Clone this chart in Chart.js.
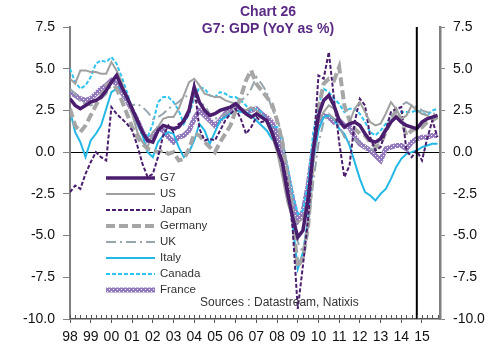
<!DOCTYPE html>
<html>
<head>
<meta charset="utf-8">
<script src="https://cdn.jsdelivr.net/npm/chart.js@4.4.1/dist/chart.umd.min.js"></script>
<style>
  body { margin: 0; background: #fff; }
  #wrap { position: relative; width: 500px; height: 359px; }
  #title { position: absolute; left: 168px; top: 3px; width: 200px; text-align: center;
           font: bold 14px "Liberation Sans", Arial, sans-serif; line-height: 17px; color: #5a2a84; }
  #src { position: absolute; left: 200px; top: 295px; font: 12px "Liberation Sans", Arial, sans-serif; color: #333; }
</style>
</head>
<body>
<div id="wrap">
  <canvas id="myChart" width="500" height="359"></canvas>
  <div id="title">Chart 26<br>G7: GDP (YoY as %)</div>
  <div id="src">Sources : Datastream, Natixis</div>
</div>
<script>
// quarterly YoY %, 1998 Q1 .. 2015 Q4
var firstYear = 1998;
var yearLabels = ['98','99','00','01','02','03','04','05','06','07','08','09','10','11','12','13','14','15'];
var forecastStart = 2014.75;

var g7 = [3.2,2.8,2.6,2.8, 3.0,3.1,3.3,3.7, 4.2,4.6,3.9,3.3, 2.6,1.9,1.2,0.7,
          0.6,1.3,1.6,1.5, 1.4,1.5,1.9,2.5, 3.9,3.0,2.5,2.2, 2.3,2.5,2.6,2.7,
          2.9,2.6,2.3,2.1, 2.3,2.1,1.9,1.2, 0.3,-0.6,-2.4,-3.9, -5.1,-4.7,-2.8,0.1,
          2.2,3.1,3.4,2.8, 1.9,1.5,1.7,1.8, 1.6,1.1,0.7,0.6, 0.8,1.3,1.8,2.1,
          1.8,1.6,1.5,1.4, 1.8,2.0,2.1,2.2];
var us = [4.4,4.1,4.9,4.9, 4.8,4.8,4.7,4.7, 5.4,4.9,4.2,3.3, 2.3,1.2,0.6,0.3,
          1.2,1.5,2.0,2.1, 2.1,2.6,3.4,4.2, 4.4,4.0,3.5,3.4, 3.3,3.3,3.1,3.0,
          2.9,2.6,2.5,2.7, 2.5,2.2,1.8,1.0, 0.0,-1.4,-3.0,-4.0, -4.2,-4.0,-2.8,0.2,
          1.8,2.4,2.8,2.6, 1.9,1.5,1.8,2.6, 3.0,2.4,1.8,1.6, 1.7,2.3,3.0,2.6,
          2.0,2.2,2.8,2.5, 2.3,2.2,2.0,2.2];
var japan = [-2.4,-2.0,-2.2,-1.3, -0.6,0.0,-0.3,-0.5, 2.7,2.3,2.0,1.7, 1.3,0.4,-0.7,-1.5,
          -1.3,-0.3,1.0,1.6, 1.2,1.7,1.8,2.3, 4.0,1.4,0.7,0.8, 0.7,1.3,1.9,2.3,
          2.6,2.0,1.1,1.5, 2.1,1.8,1.9,1.2, 0.3,-0.6,-1.8,-4.5, -9.4,-6.8,-4.0,-0.1,
          4.6,4.4,6.0,3.2, 0.6,-1.5,-0.8,1.8, 3.2,2.8,0.9,0.1, 0.3,1.3,2.4,2.6,
          2.7,0.1,-0.3,0.1, -0.5,0.8,1.9,0.9];
var germany = [2.6,1.6,1.2,1.6, 2.2,2.8,3.4,4.0, 4.2,3.8,3.1,2.3, 1.5,0.9,0.5,0.2,
          0.1,0.0,0.1,-0.1, 0.0,-0.5,-0.4,0.2, 1.1,1.0,0.6,0.3, 0.0,0.6,1.1,1.6,
          2.5,3.3,4.3,4.9, 4.1,3.7,3.3,2.9, 1.9,0.6,-1.6,-4.0, -6.9,-6.3,-4.5,-0.3,
          2.6,4.1,4.4,4.3, 5.1,2.8,1.9,1.4, 1.1,1.0,0.6,0.3, 0.5,1.2,1.9,2.5,
          1.9,1.0,1.3,1.4, 1.5,1.8,1.9,2.1];
var uk = [3.8,3.5,3.0,2.9, 2.8,2.9,3.2,3.5, 4.0,3.8,3.3,3.0, 2.8,2.9,2.7,2.4,
          2.0,2.1,2.3,2.6, 2.8,3.0,3.3,3.4, 3.1,3.0,2.8,2.3, 2.0,2.1,2.3,2.5,
          2.8,3.1,3.3,3.8, 4.5,4.1,3.6,2.6, 2.0,1.0,-1.0,-3.0, -5.4,-6.0,-4.5,-1.8,
          0.5,1.8,2.3,2.0, 1.6,0.9,0.6,0.8, 0.5,0.3,0.2,0.1, 0.9,1.5,1.9,2.3,
          2.8,3.0,2.8,2.7, 2.5,2.4,2.3,2.3];
var italy = [2.5,1.2,0.6,-0.3, 0.7,1.1,1.6,2.6, 3.6,3.8,3.9,3.2, 2.5,1.8,1.0,0.0,
          -0.3,0.6,1.0,1.2, 1.1,0.3,-0.3,0.0, 0.7,1.7,1.3,0.5, 1.2,1.9,2.1,2.3,
          2.5,2.4,2.4,2.2, 1.9,1.6,1.3,0.8, 0.5,-0.7,-2.1,-4.3, -7.0,-6.0,-4.0,-0.5,
          1.3,2.1,2.2,2.0, 1.4,1.1,0.4,-0.6, -1.6,-2.4,-2.6,-2.9, -2.5,-2.2,-1.6,-0.9,
          -0.4,-0.1,0.0,0.1, 0.3,0.4,0.5,0.5];
var canada = [5.0,4.2,3.8,4.0, 4.5,5.3,5.5,5.4, 5.7,5.3,4.5,3.6, 2.6,1.7,1.1,0.9,
          1.7,3.0,3.3,3.3, 3.0,2.5,1.7,2.3, 3.2,3.9,3.8,3.4, 3.3,3.6,3.5,3.3,
          3.3,3.1,2.8,2.5, 2.6,2.4,1.8,1.5, 1.5,0.7,-0.8,-2.5, -3.7,-3.5,-1.8,1.2,
          2.8,3.8,3.6,3.2, 2.9,2.4,2.6,2.6, 2.3,1.8,1.2,1.0, 1.3,1.7,2.1,2.5,
          2.4,2.4,2.4,2.5, 2.4,2.2,2.5,2.6];
var france = [3.6,3.4,3.2,3.1, 3.2,3.5,3.8,4.0, 4.3,4.1,3.6,3.1, 2.5,1.9,1.2,0.7,
          1.0,1.4,1.3,0.9, 0.6,0.9,1.0,1.3, 2.0,2.5,2.2,1.9, 1.6,1.9,2.3,2.6,
          2.7,2.5,2.4,2.5, 2.6,2.3,2.1,1.8, 1.0,0.0,-1.3,-2.8, -4.1,-3.6,-2.0,0.2,
          1.9,2.2,2.1,1.8, 1.9,1.6,1.5,0.9, 0.5,0.3,0.1,-0.2, -0.5,0.2,0.3,0.4,
          0.4,0.2,0.6,0.8, 0.9,0.9,1.0,1.0];

var names = ['G7','US','Japan','Germany','UK','Italy','Canada','France'];
var values = [g7, us, japan, germany, uk, italy, canada, france];

// dotted purple band used for France
function hatch() {
    var c = document.createElement('canvas');
    c.width = 4; c.height = 4;
    var g = c.getContext('2d');
    g.fillStyle = '#9479bf';
    g.fillRect(0, 0, 4, 4);
    g.fillStyle = '#ffffff';
    g.fillRect(1, 1, 1, 1);
    g.fillRect(3, 3, 1, 1);
    return g.createPattern(c, 'repeat');
}

var styles = [
    {color: '#4b1d6e', width: 3.5, dash: []},
    {color: '#a0a0a0', width: 2, dash: []},
    {color: '#4b1d6e', width: 2, dash: [4, 2]},
    {color: '#a6a6a6', width: 4, dash: [9, 4]},
    {color: '#97a5ae', width: 2, dash: [10, 4, 2, 4]},
    {color: '#22b8e6', width: 2, dash: []},
    {color: '#30c4f2', width: 2, dash: [4, 2]},
    {color: hatch(), width: 5, dash: []}
];

var datasets = names.map(function (name, k) {
    return {
        label: name,
        data: values[k].map(function (v, i) { return {x: firstYear + i / 4, y: v}; }),
        borderColor: styles[k].color,
        borderWidth: styles[k].width,
        borderDash: styles[k].dash,
        pointRadius: 0,
        tension: 0,
        fill: false
    };
});

var extras = {
    id: 'extras',
    afterDatasetsDraw: function (chart) {
        var ctx = chart.ctx, a = chart.chartArea, x = chart.scales.x;
        ctx.save();
        // forecast separator
        var fx = x.getPixelForValue(forecastStart);
        ctx.strokeStyle = '#000';
        ctx.lineWidth = 2;
        ctx.beginPath(); ctx.moveTo(fx, a.top); ctx.lineTo(fx, a.bottom); ctx.stroke();
        // quarterly minor ticks
        ctx.strokeStyle = '#555';
        ctx.lineWidth = 1;
        for (var q = 0; q < g7.length; q++) {
            var px = Math.round(x.getPixelForValue(firstYear + q / 4)) + 0.5;
            ctx.beginPath(); ctx.moveTo(px, a.bottom); ctx.lineTo(px, a.bottom - 4); ctx.stroke();
        }
        // legend
        ctx.font = '11.5px "Liberation Sans", Arial, sans-serif';
        ctx.textBaseline = 'middle';
        ctx.fillStyle = '#333';
        chart.data.datasets.forEach(function (ds, k) {
            var yy = 178 + k * 16;
            ctx.strokeStyle = ds.borderColor;
            ctx.lineWidth = ds.borderWidth;
            ctx.setLineDash(ds.borderDash || []);
            ctx.beginPath(); ctx.moveTo(106, yy); ctx.lineTo(155, yy); ctx.stroke();
            ctx.setLineDash([]);
            ctx.fillText(ds.label, 160, yy);
        });
        ctx.restore();
    }
};

var tickFont = {family: '"Liberation Sans", Arial, sans-serif', size: 14};

var ctx = document.getElementById('myChart').getContext('2d');
var myChart = new Chart(ctx, {
    type: 'line',
    data: {datasets: datasets},
    plugins: [extras],
    options: {
        responsive: false,
        animation: false,
        layout: {padding: {top: 27, left: 0, right: 0, bottom: 0}},
        plugins: {legend: {display: false}, tooltip: {enabled: false}},
        scales: {
            x: {
                type: 'linear',
                min: 1998,
                max: 2015.87,
                afterFit: function (s) { s.height = 40; },
                ticks: {
                    stepSize: 1,
                    includeBounds: false,
                    autoSkip: false,
                    maxRotation: 0,
                    padding: 6,
                    color: '#111',
                    font: tickFont,
                    callback: function (v) {
                        return Number.isInteger(v) ? yearLabels[v - firstYear] : '';
                    }
                },
                grid: {
                    drawOnChartArea: false,
                    tickLength: 4,
                    tickColor: function (c) { return Number.isInteger(c.tick.value) ? '#555' : 'rgba(0,0,0,0)'; }
                },
                border: {color: '#555', width: 1.5}
            },
            y: {
                position: 'left',
                min: -10,
                max: 7.5,
                afterFit: function (s) { s.width = 70; },
                ticks: {
                    stepSize: 2.5,
                    padding: 8,
                    color: '#111',
                    font: tickFont,
                    callback: function (v) { return v.toFixed(1); }
                },
                grid: {
                    drawOnChartArea: true,
                    color: function (c) { return c.tick.value === 0 ? '#000' : 'rgba(0,0,0,0)'; },
                    tickColor: '#808080',
                    tickLength: 7,
                    lineWidth: 1
                },
                border: {color: '#808080', width: 2}
            },
            y2: {
                position: 'right',
                min: -10,
                max: 7.5,
                afterFit: function (s) { s.width = 60; },
                ticks: {
                    stepSize: 2.5,
                    padding: 8,
                    color: '#111',
                    font: tickFont,
                    callback: function (v) { return v.toFixed(1); }
                },
                grid: {drawOnChartArea: false, tickColor: '#808080', tickLength: 5},
                border: {color: '#808080', width: 2.5}
            }
        }
    }
});
</script>
</body>
</html>
